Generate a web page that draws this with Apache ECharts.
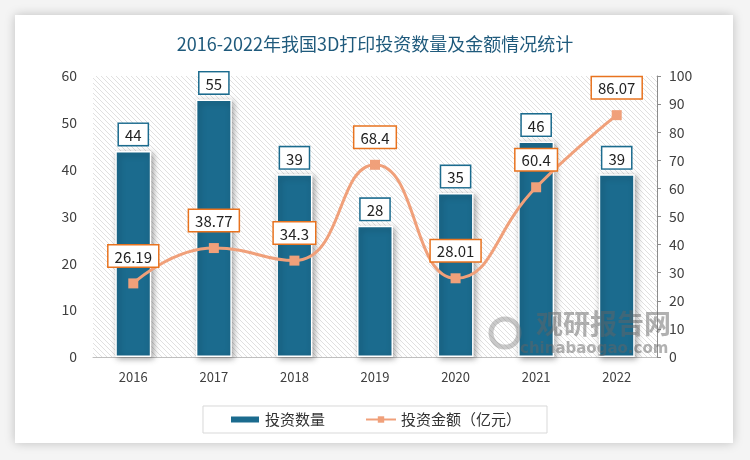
<!DOCTYPE html>
<html><head><meta charset="utf-8">
<script src="https://cdn.jsdelivr.net/npm/echarts@6/dist/echarts.min.js"></script>
<style>html,body{margin:0;padding:0;background:#f4f4f4}#c{width:750px;height:460px}</style>
</head><body><div id="c"></div>
<script>
const categories = ['2016','2017','2018','2019','2020','2021','2022'];
const countValues = [44, 55, 39, 28, 35, 46, 39];
const amountValues = [26.19, 38.77, 34.3, 68.4, 28.01, 60.4, 86.07];
const leftTicks = {min: 0, max: 60, interval: 10};
const rightTicks = {min: 0, max: 100, interval: 10};

const cv = document.createElement('canvas');
cv.width = 5; cv.height = 5;
const cx = cv.getContext('2d');
cx.fillStyle = '#ffffff'; cx.fillRect(0,0,5,5);
cx.strokeStyle = '#e0e0e0'; cx.lineWidth = 1;
cx.beginPath();
cx.moveTo(-1,-1); cx.lineTo(6,6);
cx.moveTo(4,-1); cx.lineTo(6,1);
cx.moveTo(-1,4); cx.lineTo(1,6);
cx.stroke();

const chart = echarts.init(document.getElementById('c'));
const FONT = '"Noto Sans CJK SC", "Open Sans", sans-serif';
chart.setOption({
  backgroundColor: '#f4f4f4',
  animation: false,
  textStyle: {fontFamily: FONT},
  title: {
    text: '2016-2022年我国3D打印投资数量及金额情况统计',
    left: 'center', top: 30,
    textStyle: {fontSize: 18, fontWeight: 'normal', color: '#1f5a7c', fontFamily: FONT}
  },
  graphic: [
    {type: 'rect', z: -10, shape: {x: 15, y: 15, width: 718, height: 428},
     style: {fill: '#ffffff', shadowBlur: 10, shadowColor: 'rgba(0,0,0,0.22)'}},
    {type: 'text', z: 100, left: 536, top: 310,
     style: {text: '观研报告网', fill: 'rgba(100,100,100,0.5)', font: 'bold 27px "Noto Sans CJK SC"'}},
    {type: 'text', z: 100, left: 520, top: 342,
     style: {text: 'chinabaogao.com', fill: 'rgba(100,100,100,0.5)', font: 'bold 15px "DejaVu Sans"'}},
    {type: 'circle', z: 100, shape: {cx: 505, cy: 333, r: 14},
     style: {fill: 'none', stroke: 'rgba(120,120,120,0.4)', lineWidth: 5}}
  ],
  grid: {left: 93, right: 93, top: 76, bottom: 103, show: true, borderWidth: 0,
         backgroundColor: {image: cv, repeat: 'repeat'}},
  legend: {
    bottom: 27, left: 'center', itemGap: 40, itemWidth: 30, itemHeight: 8,
    padding: [6, 26, 6, 26],
    borderColor: '#d9d9d9', borderWidth: 1,
    textStyle: {fontSize: 15, color: '#333'},
    data: [{name: '投资数量', icon: 'rect'}, {name: '投资金额（亿元）'}]
  },
  xAxis: {
    type: 'category', data: categories,
    axisLine: {lineStyle: {color: '#bfbfbf', width: 1}},
    axisTick: {show: false},
    axisLabel: {fontSize: 13, color: '#404040', margin: 14}
  },
  yAxis: [
    {type: 'value', min: leftTicks.min, max: leftTicks.max, interval: leftTicks.interval,
     splitLine: {show: false}, axisLine: {show: false}, axisTick: {show: false},
     axisLabel: {fontSize: 14, color: '#404040', margin: 16}},
    {type: 'value', min: rightTicks.min, max: rightTicks.max, interval: rightTicks.interval,
     splitLine: {show: false},
     axisLine: {show: true, lineStyle: {color: '#8c8c8c', width: 1}},
     axisTick: {show: true, length: 4, lineStyle: {color: '#8c8c8c'}},
     axisLabel: {fontSize: 14, color: '#404040', margin: 12}}
  ],
  series: [
    {name: '投资数量', type: 'bar', yAxisIndex: 0, data: countValues, barWidth: 36,
     itemStyle: {color: '#1b6b8e', borderColor: '#ffffff', borderWidth: 1.5,
                 shadowBlur: 6, shadowColor: 'rgba(0,0,0,0.35)', shadowOffsetX: 2, shadowOffsetY: 2},
     label: {show: true, position: 'top', distance: 6, fontSize: 15, color: '#222',
             backgroundColor: '#fff', borderColor: '#1b6b8e', borderWidth: 1.5, padding: [4, 6, 2, 6]}},
    {name: '投资金额（亿元）', type: 'line', yAxisIndex: 1, data: amountValues, smooth: 0.5,
     symbol: 'rect', symbolSize: 10,
     lineStyle: {color: '#f0a07a', width: 3},
     itemStyle: {color: '#f0a07a'},
     label: {show: true, position: 'top', distance: 12, fontSize: 15, color: '#222',
             backgroundColor: '#fff', borderColor: '#e8731f', borderWidth: 1.5, padding: [4, 6, 2, 6]}}
  ]
});
</script></body></html>
